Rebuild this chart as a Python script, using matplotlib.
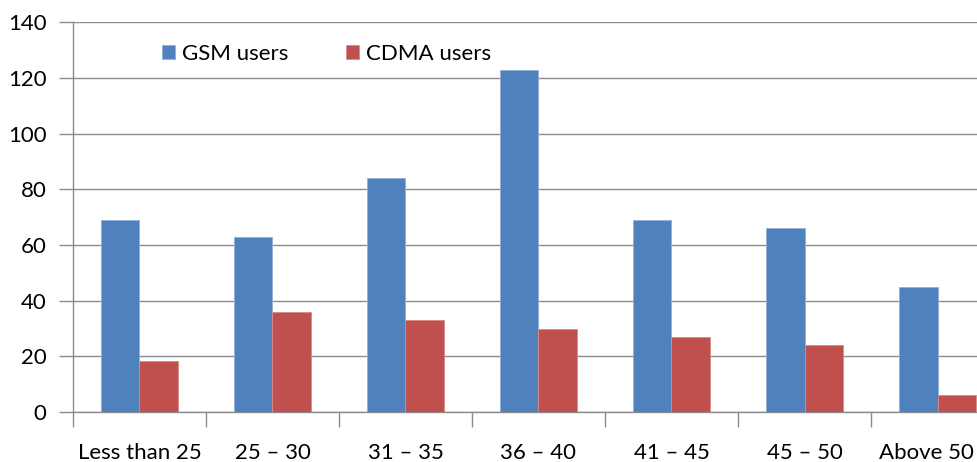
import numpy as np
import matplotlib
matplotlib.use("Agg")
import matplotlib.pyplot as plt
from matplotlib.transforms import ScaledTranslation

categorias = ['Less than 25', '25 – 30', '31 – 35', '36 – 40', '41 – 45', '45 – 50', 'Above 50']
gsm_users = [69, 63, 84, 123, 69, 66, 45]
cdma_users = [18.5, 36, 33, 30, 27, 24, 6]

plt.rcParams['font.family'] = ['Lato', 'DejaVu Sans']

fig = plt.figure(figsize=(9.78, 4.62), dpi=100)
# el eje se sale un poco por la derecha, como en la imagen original
ax = fig.add_axes([0.0746, 0.108, 0.952, 0.844])

x = np.arange(len(categorias))
ancho = 0.286
ax.bar(x - ancho / 2, gsm_users, ancho, color='#4F81BD', edgecolor='#8fb0da',
       linewidth=0.6, label='GSM users', zorder=3)
ax.bar(x + ancho / 2, cdma_users, ancho, color='#C0504D', edgecolor='#d98a88',
       linewidth=0.6, label='CDMA users', zorder=3)

ax.set_xlim(-0.5, len(categorias) - 0.5)
ax.set_ylim(0, 140)
ax.set_yticks(range(0, 141, 20))
ax.yaxis.grid(True, color='#8c8c8c', linewidth=1.0, zorder=0)

ax.set_xticks(x)
ax.set_xticklabels(categorias, fontsize=16)
ax.set_xticks(np.arange(-0.5, len(categorias), 1), minor=True)
ax.tick_params(axis='x', which='major', length=0, pad=22)
ax.tick_params(axis='x', which='minor', length=11, color='#8c8c8c', width=1)
ax.tick_params(axis='y', length=10, color='#8c8c8c', width=1, labelsize=16, pad=9)

# la ultima etiqueta queda pegada al borde, la corro un poco a la izquierda
ultima = ax.get_xticklabels()[-1]
ultima.set_transform(ultima.get_transform() + ScaledTranslation(-0.11, 0, fig.dpi_scale_trans))

for lado in ['top', 'right']:
    ax.spines[lado].set_visible(False)
for lado in ['left', 'bottom']:
    ax.spines[lado].set_color('#8c8c8c')
    ax.spines[lado].set_linewidth(1.0)

leg = ax.legend(loc='upper left', bbox_to_anchor=(0.074, 0.995), ncol=2, frameon=False,
                fontsize=16, handlelength=0.6, handleheight=0.6, handletextpad=0.3,
                columnspacing=2.6)

fig.savefig('out.png', dpi=100)
